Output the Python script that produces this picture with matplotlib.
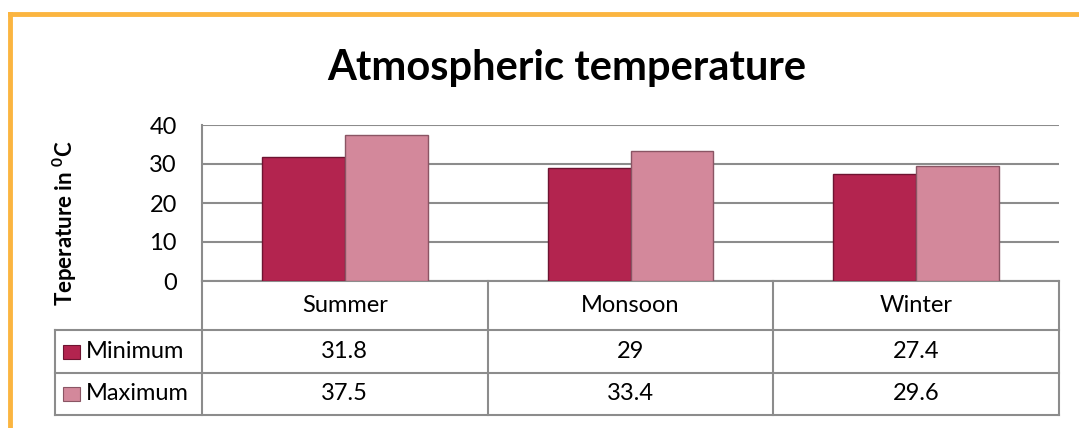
import numpy as np
import matplotlib.pyplot as plt
from matplotlib.patches import Rectangle

seasons = ['Summer', 'Monsoon', 'Winter']
minimum = [31.8, 29, 27.4]
maximum = [37.5, 33.4, 29.6]
series_names = ['Minimum', 'Maximum']
yticks = [0, 10, 20, 30, 40]

plt.rcParams['font.family'] = ['Lato', 'DejaVu Sans']

colors = ['#B3244F', '#D3889B']
edges = ['#6E1431', '#8A5564']
grid_col = '#8C8C8C'
fs = 17

fig = plt.figure(figsize=(10.79, 4.28), dpi=100)
ax = fig.add_axes([202 / 1079, 1 - 281 / 428, 857 / 1079, 156 / 428])

x = np.arange(len(seasons))
w = 0.29
ax.bar(x - w / 2, minimum, w, color=colors[0], edgecolor=edges[0], linewidth=1, zorder=3)
ax.bar(x + w / 2, maximum, w, color=colors[1], edgecolor=edges[1], linewidth=1, zorder=3)

ax.set_xlim(-0.5, len(seasons) - 0.5)
ax.set_ylim(0, 40)
ax.set_yticks(yticks)
ax.tick_params(axis='y', length=0, labelsize=fs, pad=18)
ax.set_xticks([])
ax.yaxis.grid(True, color=grid_col, linewidth=1.5, zorder=0)
for s in ['top', 'right']:
    ax.spines[s].set_visible(False)
for s in ['left', 'bottom']:
    ax.spines[s].set_color(grid_col)
    ax.spines[s].set_linewidth(1.5)
ax.set_ylabel('Teperature in $\\mathregular{^{0}}$C', fontsize=16, fontweight='bold')
ax.yaxis.set_label_coords(-0.143, 0.37)

# data table under the chart
tr = ax.transAxes
left = -147 / 857
rows_y = [0, -49 / 156, -92 / 156, -134 / 156]
lk = dict(color=grid_col, linewidth=1.5, transform=tr, clip_on=False)
for yy in rows_y[1:]:
    ax.plot([left, 1], [yy, yy], **lk)
ax.plot([left, left], [rows_y[1], rows_y[3]], **lk)
for xx in [0, 1 / 3, 2 / 3, 1]:
    ax.plot([xx, xx], [0, rows_y[3]], **lk)

for i, s in enumerate(seasons):
    ax.text((i + 0.5) / 3, (rows_y[0] + rows_y[1]) / 2, s, transform=tr,
            ha='center', va='center', fontsize=fs)

for r, (name, vals) in enumerate(zip(series_names, [minimum, maximum])):
    yc = (rows_y[r + 1] + rows_y[r + 2]) / 2
    ax.add_patch(Rectangle((left + 8 / 857, yc - 7 / 156), 17 / 857, 14 / 156, transform=tr,
                           facecolor=colors[r], edgecolor=edges[r], linewidth=0.8, clip_on=False))
    ax.text(left + 31 / 857, yc, name, transform=tr, ha='left', va='center', fontsize=fs)
    for i, v in enumerate(vals):
        ax.text((i + 0.5) / 3, yc, f'{v:g}', transform=tr, ha='center', va='center', fontsize=fs)

fig.text(567 / 1079, 1 - 68 / 428, 'Atmospheric temperature', ha='center', va='center',
         fontsize=30, fontweight='bold')

# orange frame
fig.add_artist(plt.Line2D([10 / 1079, 10 / 1079], [0, 1 - 14 / 428], color='#FBB540',
                          linewidth=3.5, transform=fig.transFigure, solid_capstyle='projecting'))
fig.add_artist(plt.Line2D([10 / 1079, 1], [1 - 14 / 428, 1 - 14 / 428], color='#FBB540',
                          linewidth=3.5, transform=fig.transFigure, solid_capstyle='projecting'))

fig.savefig('out.png', dpi=100)
